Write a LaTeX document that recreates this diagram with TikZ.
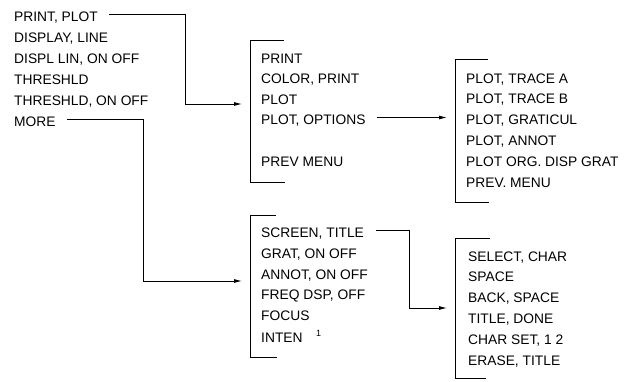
\documentclass[tikz,border=0pt]{standalone}
\usepackage{fontspec}
\setmainfont{Liberation Sans}
\usetikzlibrary{arrows.meta}
\begin{document}
\begin{tikzpicture}[x=1pt,y=-1pt,
  item/.style={anchor=west,inner sep=0pt,text height=9.8pt,text depth=0pt,
    font=\fontsize{13.8}{16}\selectfont},
  conn/.style={line width=0.9pt,-{Latex[length=8pt,width=4pt]}},
  brk/.style={line width=0.8pt}]
\useasboundingbox (0,0) rectangle (626,382);
% left menu
\node[item] (l1) at (14,17) {PRINT, PLOT};
\node[item] (l2) at (14,38) {DISPLAY, LINE};
\node[item] (l3) at (14,59) {DISPL LIN, ON OFF};
\node[item] (l4) at (14,80) {THRESHLD};
\node[item] (l5) at (14,101) {THRESHLD, ON OFF};
\node[item] (l6) at (14,122) {MORE};
% middle top menu
\draw[brk] (284,40) -- (250,40) -- (250,182) -- (285,182);
\node[item] (m1) at (261,59) {PRINT};
\node[item] (m2) at (261,79) {COLOR, PRINT};
\node[item] (m3) at (261,100) {PLOT};
\node[item] (m4) at (261,120) {PLOT, OPTIONS};
\node[item] (m5) at (261,162) {PREV MENU};
% right top menu
\draw[brk] (488,59) -- (455,59) -- (455,202) -- (489,202);
\node[item] (r1) at (466,79) {PLOT, TRACE A};
\node[item] (r2) at (466,99) {PLOT, TRACE B};
\node[item] (r3) at (466,120) {PLOT, GRATICUL};
\node[item] (r4) at (466,141) {PLOT, ANNOT};
\node[item] (r5) at (466,162) {PLOT ORG. DISP GRAT};
\node[item] (r6) at (466,183) {PREV. MENU};
% middle bottom menu
\draw[brk] (276,215) -- (250,215) -- (250,357) -- (277,357);
\node[item] (n1) at (261,233) {SCREEN, TITLE};
\node[item] (n2) at (261,254) {GRAT, ON OFF};
\node[item] (n3) at (261,275) {ANNOT, ON OFF};
\node[item] (n4) at (261,295) {FREQ DSP, OFF};
\node[item] (n5) at (261,316) {FOCUS};
\node[item] (n6) at (261,338) {INTEN};
\node[inner sep=0pt,font=\fontsize{9}{10}\selectfont,anchor=west] (sup) at ([xshift=13pt,yshift=5pt]n6.east) {1};
% right bottom menu
\draw[brk] (490,238) -- (455,238) -- (455,378) -- (486,378);
\node[item] (s1) at (468,257) {SELECT, CHAR};
\node[item] (s2) at (468,277) {SPACE};
\node[item] (s3) at (468,298) {BACK, SPACE};
\node[item] (s4) at (468,319) {TITLE, DONE};
\node[item] (s5) at (468,340) {CHAR SET, 1 2};
\node[item] (s6) at (468,361) {ERASE, TITLE};
% connector bends and arrow tips
\coordinate (k1) at (185,14);
\coordinate (a1) at (242,104);
\coordinate (k2) at (143,119);
\coordinate (a2) at (242,281);
\coordinate (a3) at (447,117.5);
\coordinate (k4) at (409,230);
\coordinate (a4) at (447,308);
\draw[conn,shorten <=11pt] ([yshift=3pt]l1.east) -- ([yshift=3pt]l1.east -| k1) |- (a1);
\draw[conn,shorten <=11pt] ([yshift=3pt]l6.east) -- ([yshift=3pt]l6.east -| k2) |- (a2);
\draw[conn,shorten <=11pt] (m4.east |- a3) -- (a3);
\draw[conn,shorten <=12pt] ([yshift=3pt]n1.east) -- ([yshift=3pt]n1.east -| k4) |- (a4);
\end{tikzpicture}
\end{document}
